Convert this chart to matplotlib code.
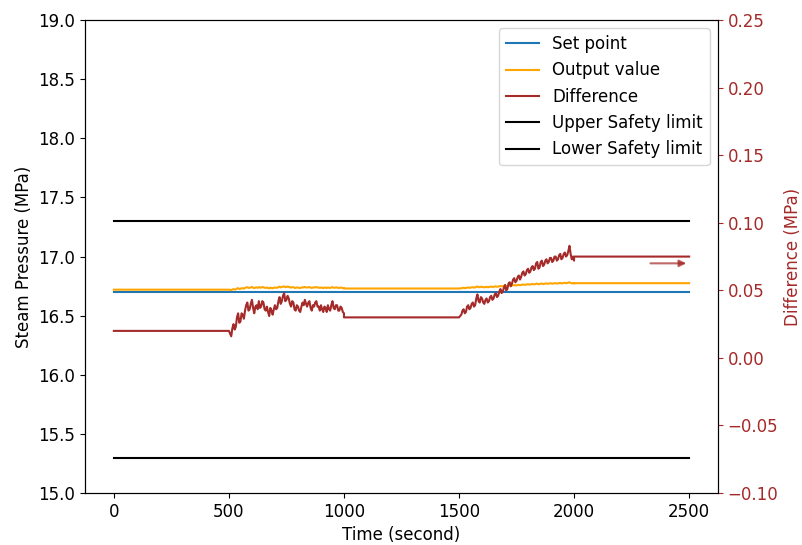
import matplotlib
matplotlib.use("Agg")
import matplotlib.pyplot as plt
import numpy as np

# steam pressure set point and safety band (MPa)
set_point = 16.7
upper_limit = 17.3
lower_limit = 15.3
t_end = 2500

# controller error, sampled every 5 s during the two disturbance windows
seg1_time = np.arange(500, 1001, 5)
seg1_diff = [0.020, 0.018, 0.016, 0.022, 0.025, 0.021, 0.023, 0.030, 0.033, 0.026,
             0.027, 0.033, 0.032, 0.029, 0.035, 0.039, 0.041, 0.035, 0.036, 0.040,
             0.043, 0.037, 0.033, 0.038, 0.039, 0.036, 0.042, 0.037, 0.038, 0.042,
             0.041, 0.036, 0.035, 0.038, 0.034, 0.031, 0.037, 0.035, 0.032, 0.036,
             0.039, 0.036, 0.037, 0.042, 0.045, 0.040, 0.042, 0.046, 0.048, 0.042,
             0.043, 0.046, 0.044, 0.040, 0.038, 0.042, 0.041, 0.036, 0.035, 0.039,
             0.038, 0.035, 0.034, 0.038, 0.041, 0.039, 0.043, 0.040, 0.038, 0.041,
             0.042, 0.037, 0.035, 0.039, 0.038, 0.041, 0.042, 0.038, 0.038, 0.035,
             0.039, 0.036, 0.034, 0.038, 0.037, 0.034, 0.039, 0.036, 0.035, 0.039,
             0.042, 0.037, 0.036, 0.039, 0.039, 0.035, 0.035, 0.038, 0.037, 0.034,
             0.033]
seg2_time = np.arange(1500, 2001, 5)
seg2_diff = [0.030, 0.031, 0.032, 0.035, 0.036, 0.033, 0.034, 0.038, 0.039, 0.036,
             0.037, 0.040, 0.041, 0.038, 0.039, 0.044, 0.047, 0.042, 0.041, 0.045,
             0.044, 0.041, 0.040, 0.043, 0.044, 0.041, 0.042, 0.045, 0.046, 0.043,
             0.044, 0.047, 0.048, 0.045, 0.046, 0.049, 0.051, 0.048, 0.049, 0.052,
             0.054, 0.050, 0.051, 0.055, 0.056, 0.053, 0.055, 0.058, 0.059, 0.056,
             0.057, 0.060, 0.061, 0.058, 0.060, 0.063, 0.064, 0.061, 0.062, 0.065,
             0.066, 0.063, 0.064, 0.067, 0.068, 0.065, 0.066, 0.070, 0.071, 0.066,
             0.067, 0.071, 0.072, 0.068, 0.069, 0.072, 0.073, 0.070, 0.071, 0.074,
             0.074, 0.071, 0.072, 0.075, 0.075, 0.072, 0.073, 0.076, 0.077, 0.073,
             0.074, 0.077, 0.078, 0.075, 0.076, 0.079, 0.083, 0.077, 0.073, 0.075,
             0.072]
# steady levels between the windows
diff_start, diff_mid, diff_end = 0.020, 0.030, 0.075

time = np.concatenate([[0], seg1_time, [1000, 1500], seg2_time, [2000, t_end]])
diff = np.concatenate([[diff_start], seg1_diff, [diff_mid, diff_mid], seg2_diff,
                       [diff_end, diff_end]])
output = set_point + diff

fig, ax = plt.subplots(figsize=(8.03, 5.45), dpi=100)
fig.subplots_adjust(left=0.106, right=0.894, top=0.963, bottom=0.0954)

ax.plot([0, t_end], [set_point, set_point], color='tab:blue', lw=1.5, label='Set point')
ax.plot(time, output, color='orange', lw=1.5, label='Output value')
ax.plot([0, t_end], [upper_limit, upper_limit], color='black', lw=1.5, label='Upper Safety limit')
ax.plot([0, t_end], [lower_limit, lower_limit], color='black', lw=1.5, label='Lower Safety limit')
ax.set_ylim(15.0, 19.0)
ax.set_xlabel('Time (second)', fontsize=12)
ax.set_ylabel('Steam Pressure (MPa)', fontsize=12)
ax.tick_params(labelsize=12)

ax2 = ax.twinx()
ax2.plot(time, diff, color='brown', lw=1.5, label='Difference')
ax2.set_ylim(-0.10, 0.25)
ax2.set_ylabel('Difference (MPa)', color='brown', fontsize=12)
ax2.tick_params(axis='y', colors='brown', labelsize=12)
ax2.spines['right'].set_color('black')
ax2.annotate('', xy=(2500, 0.07), xytext=(2320, 0.07),
             arrowprops=dict(arrowstyle='-|>', color='brown', alpha=0.7, lw=1.5))

h1, l1 = ax.get_legend_handles_labels()
h2, l2 = ax2.get_legend_handles_labels()
handles = [h1[0], h1[1], h2[0], h1[2], h1[3]]
labels = [l1[0], l1[1], l2[0], l1[2], l1[3]]
ax2.legend(handles, labels, loc='upper right', fontsize=12)

fig.savefig('out.png', dpi=100)
